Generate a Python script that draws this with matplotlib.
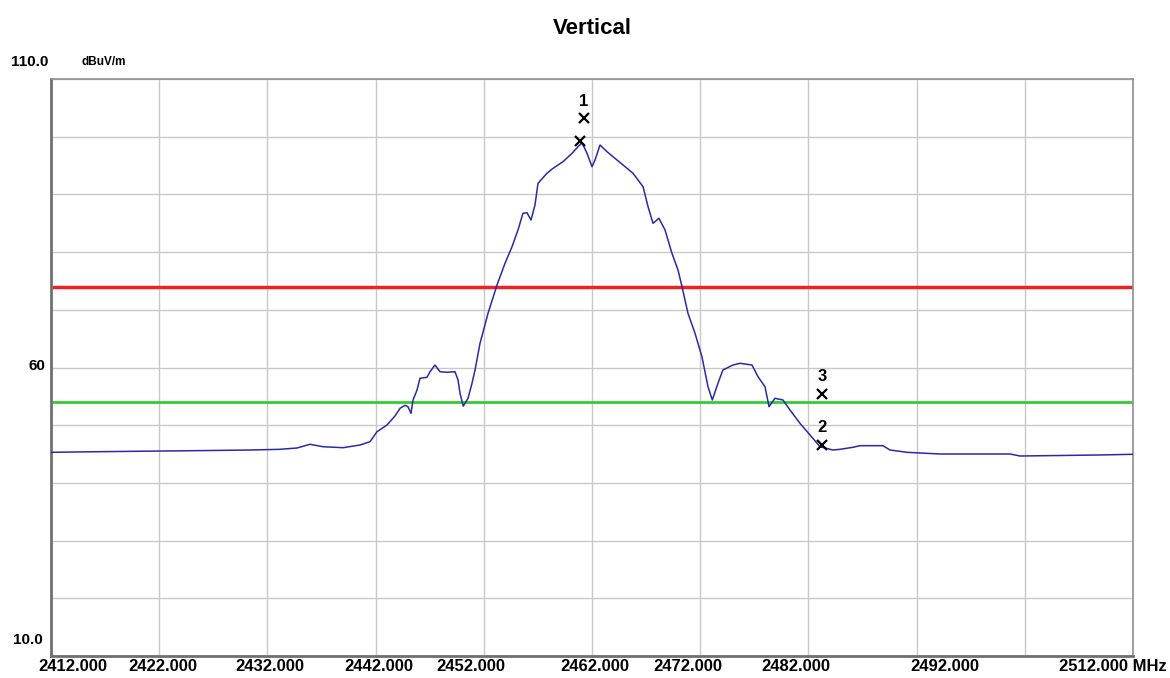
import matplotlib
matplotlib.use("Agg")
import matplotlib.pyplot as plt
import matplotlib.transforms as mtransforms

# ---- data ----
freq = [2412.0, 2416.0, 2421.0, 2426.0, 2430.4, 2433.16, 2434.74, 2435.94, 2437.14, 2438.99,
        2440.56, 2441.48, 2442.13, 2443.05, 2443.79, 2444.26, 2444.72, 2444.99, 2445.27, 2445.46,
        2445.83, 2446.10, 2446.75, 2447.03, 2447.49, 2447.95, 2448.60, 2449.34, 2449.62, 2449.80,
        2450.10, 2450.54, 2450.91, 2451.19, 2451.65, 2452.39, 2453.22, 2453.96, 2454.61, 2455.16,
        2455.62, 2455.99, 2456.36, 2456.73, 2457.01, 2457.84, 2458.40, 2459.32, 2460.15, 2460.71,
        2461.08, 2461.54, 2462.00, 2462.28, 2462.74, 2463.39, 2463.94, 2464.87, 2465.79, 2466.72,
        2467.18, 2467.64, 2468.19, 2468.75, 2469.39, 2469.95, 2470.32, 2470.87, 2471.52, 2472.16,
        2472.72, 2473.12, 2473.64, 2474.10, 2475.03, 2475.68, 2476.79, 2477.34, 2477.99, 2478.36,
        2478.91, 2479.65, 2480.30, 2481.22, 2482.15, 2483.07, 2484.27, 2484.92, 2486.12, 2486.77,
        2488.89, 2489.54, 2491.11, 2494.16, 2500.63, 2501.56, 2508.95, 2512.0]
level = [45.3, 45.4, 45.5, 45.6, 45.7, 45.82, 46.05, 46.69, 46.27, 46.10,
         46.57, 47.14, 48.87, 50.03, 51.59, 52.93, 53.45, 53.21, 52.06, 54.37,
         56.10, 58.13, 58.30, 59.27, 60.43, 59.27, 59.17, 59.27, 57.83, 55.53,
         53.30, 54.66, 57.26, 59.57, 64.19, 69.39, 74.30, 78.06, 80.94, 83.83,
         86.72, 86.83, 85.56, 88.16, 91.92, 93.66, 94.52, 95.67, 97.12, 98.27,
         98.96, 97.12, 94.80, 95.96, 98.56, 97.40, 96.53, 95.10, 93.66, 91.33,
         87.87, 84.99, 85.86, 83.83, 79.79, 76.90, 74.00, 69.39, 65.93, 61.87,
         56.67, 54.37, 57.26, 59.57, 60.43, 60.73, 60.43, 58.41, 56.67, 53.21,
         54.66, 54.37, 52.63, 50.33, 48.30, 46.27, 45.70, 45.82, 46.17, 46.45,
         46.45, 45.70, 45.30, 45.01, 45.01, 44.66, 44.84, 44.96]

peak_limit = 74.0
avg_limit = 54.0

marker_labels = ["1", "", "3", "2"]
marker_freq = [2461.26, 2460.9, 2483.26, 2483.26]
marker_level = [103.2, 99.25, 55.4, 46.6]

xtick_labels = ["2412.000", "2422.000", "2432.000", "2442.000", "2452.000",
                "2462.000", "2472.000", "2482.000", "2492.000", "2512.000 MHz"]
xtick_label_pos = [2414.0, 2422.3, 2432.2, 2442.3, 2450.8, 2462.3, 2470.9, 2480.8, 2494.6, 2515.1]

W, H = 1170, 678
fig = plt.figure(figsize=(W / 100, H / 100), dpi=100)
ax = fig.add_axes([51 / W, 1 - 656 / H, (1133 - 51) / W, (656 - 79) / H])

ax.set_xlim(2412, 2512)
ax.set_ylim(10, 110)
ax.set_xticks(range(2412, 2513, 10))
ax.set_yticks(range(10, 111, 10))
ax.grid(True, color="#c8c8c8", lw=1.0)
ax.set_axisbelow(True)
ax.tick_params(length=0, labelbottom=False, labelleft=False)
for s in ax.spines.values():
    s.set_color("#909090")
    s.set_linewidth(1.2)
ax.spines["left"].set_linewidth(2.0)
ax.spines["left"].set_color("#707070")
ax.spines["bottom"].set_linewidth(2.0)
ax.spines["bottom"].set_color("#707070")

ax.axhline(peak_limit, color="#ee2222", lw=2.5, zorder=2)
ax.axhline(avg_limit, color="#33cc33", lw=2.0, zorder=2)
ax.plot(freq, level, color="#2a2aa8", lw=1.1, zorder=3)

lab_font = dict(fontsize=12, fontweight="bold", family="Liberation Sans")
for lab, f, v in zip(marker_labels, marker_freq, marker_level):
    ax.plot([f], [v], marker="x", color="black", ms=7, mew=1.6, zorder=4)
    if lab:
        ax.annotate(lab, (f, v), xytext=(0, 7), textcoords="offset points",
                    ha="center", va="bottom", **lab_font)

tr = mtransforms.blended_transform_factory(ax.transData, ax.transAxes)
n = len(xtick_labels)
for i, (lab, x) in enumerate(zip(xtick_labels, xtick_label_pos)):
    ax.text(x, -0.0175, lab, transform=tr, ha="right" if i == n - 1 else "center",
            va="center", clip_on=False, **lab_font)

ylab_font = dict(fontsize=11, fontweight="bold", family="Liberation Sans")
fig.text(30 / W, 1 - 62 / H, "110.0", ha="center", va="center", **ylab_font)
fig.text(82 / W, 1 - 62 / H, "dBuV/m", ha="left", va="center",
         fontsize=8.5, fontweight="bold", family="Liberation Sans")
fig.text(45 / W, 1 - 366 / H, "60", ha="right", va="center", **ylab_font)
fig.text(28 / W, 1 - 640 / H, "10.0", ha="center", va="center", **ylab_font)

fig.text(592 / W, 1 - 28 / H, "Vertical", ha="center", va="center",
         fontsize=16, fontweight="bold", family="Liberation Sans")

fig.savefig("out.png", dpi=100)
